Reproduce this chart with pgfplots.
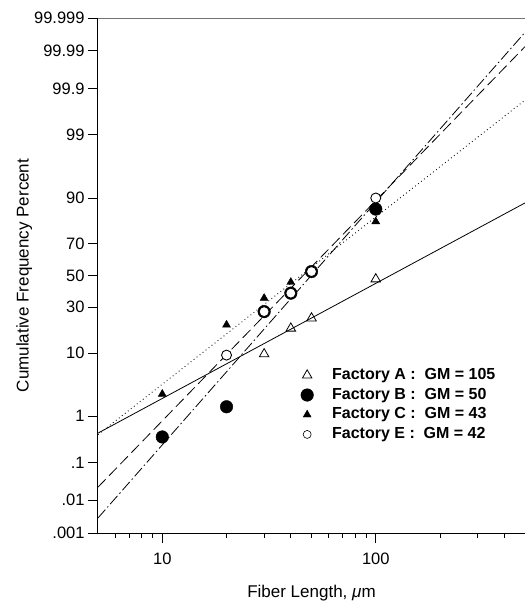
\documentclass[border=0pt]{standalone}
\usepackage{fontspec}
\setmainfont{Liberation Sans}
\usepackage{pgfplots}
\pgfplotsset{compat=1.18}
\usepackage{pgfplotstable}

% probability (probit) scale for the y axis: data are cumulative percent
\pgfplotsset{
  y coord trafo/.code={%
    \pgfmathparse{sqrt(2*(ln(100)-ln(min(#1,100-#1))))}%
    \let\probitT\pgfmathresult
    \pgfmathparse{ifthenelse(#1<50,-1,1)*(\probitT-(2.515517+0.802853*\probitT+0.010328*\probitT^2)/(1+1.432788*\probitT+0.189269*\probitT^2+0.001308*\probitT^3))}%
  },
  mylegimg/.style={legend image code/.code={\path[draw=none,fill=none] (-7pt,0pt) -- (22pt,0pt); \draw[##1] plot coordinates {(0pt,0pt)};}},
}

% Fiber length (um) vs cumulative frequency percent
\pgfplotstableread{
x   p
30  9.7
40  19.1
50  24.0
100 47.6
}\factA
\pgfplotstableread{
x   p
10  0.38
20  1.5
30  27.5
40  38.5
50  52.6
100 86.4
}\factB
\pgfplotstableread{
x   p
10  2.5
20  20.7
30  35.4
40  45.6
100 81.4
}\factC
\pgfplotstableread{
x   p
20  9.4
30  27.5
40  38.5
50  52.6
100 90.0
}\factE
% fitted lines
\pgfplotstableread{
x   p
5   0.458
500 88.49
}\fitA
\pgfplotstableread{
x   p
5   0.427
500 99.813
}\fitC
\pgfplotstableread{
x   p
5   0.0233
500 99.9923
}\fitB
\pgfplotstableread{
x   p
5   0.00304
500 99.99709
}\fitE

\begin{document}
\begin{tikzpicture}
\begin{axis}[
  name=ax,
  scale only axis, width=427pt, height=515pt,
  xmode=log, xmin=5, xmax=500,
  ymin=0.001, ymax=99.999,
  axis x line=bottom, axis y line=left,
  axis line style={-, line width=1pt},
  tick align=outside,
  major tick length=10pt, minor tick length=5pt,
  tick style={black, line width=0.8pt},
  xtick={10,100}, xticklabels={10,100},
  minor xtick={6,7,8,9,20,30,40,50,60,70,80,90,200,300,400},
  ytick={0.001,0.01,0.1,1,10,30,50,70,90,99,99.9,99.99,99.999},
  yticklabels={.001,.01,.1,1,10,30,50,70,90,99,99.9,99.99,99.999},
  /pgf/number format/assume math mode=true,
  tick label style={font=\fontsize{16.5}{18}\selectfont},
  x tick label style={yshift=-6pt},
  label style={font=\fontsize{17}{20}\selectfont},
  ylabel={Cumulative Frequency Percent},
  ylabel style={at={(axis description cs:-0.173,0.5)}, anchor=center},
  xlabel={Fiber Length, {\itshape μ}m},
  xlabel style={at={(axis description cs:0.5,-0.1165)}, anchor=center},
  clip=true,
  legend style={at={(axis description cs:0.473,0.325)}, anchor=north west,
    draw=none, fill=none, inner sep=0pt, row sep=0.7pt,
    font=\bfseries\fontsize{16}{19}\selectfont,
    nodes={inner xsep=3pt, inner ysep=2pt, text height=11.5pt, text depth=3.5pt}},
  legend cell align=left,
]
\addplot[forget plot, black, line width=0.8pt] table[x=x,y=p] {\fitA};
\addplot[forget plot, black, line width=0.9pt, dash pattern=on 0.8pt off 3pt] table[x=x,y=p] {\fitC};
\addplot[forget plot, black, line width=0.8pt, dash pattern=on 11pt off 5pt] table[x=x,y=p] {\fitB};
\addplot[forget plot, black, line width=0.8pt, dash pattern=on 11pt off 3pt on 1.5pt off 3pt] table[x=x,y=p] {\fitE};

\addplot[only marks, mark=triangle, mark size=5.5pt, mark options={solid, fill=white, draw=black, line width=0.8pt}, mylegimg] table[x=x,y=p] {\factA};
\addlegendentry{Factory A :\ \ GM = 105}
\addplot[only marks, mark=*, mark size=6.3pt, mark options={solid, fill=black, draw=black}, mylegimg] table[x=x,y=p] {\factB};
\addlegendentry{Factory B :\ \ GM = 50}
\addplot[only marks, mark=triangle*, mark size=4.6pt, mark options={solid, fill=black, draw=black}, mylegimg] table[x=x,y=p] {\factC};
\addlegendentry{Factory C :\ \ GM = 43}
\addplot[only marks, mark=*, mark size=5pt, mark options={solid, fill=white, draw=black, line width=0.9pt}, mylegimg,
  legend image post style={mark size=4pt, mark options={solid, fill=white, draw=black, line width=0.6pt}}] table[x=x,y=p] {\factE};
\addlegendentry{Factory E :\ \ GM = 42}
\end{axis}
\draw[black!55, line width=0.7pt] (ax.north west) -- (ax.north east);
\pgfresetboundingbox
\useasboundingbox ([xshift=-98pt,yshift=-68pt]ax.south west) rectangle ([yshift=18pt]ax.north east);
\end{tikzpicture}
\end{document}
